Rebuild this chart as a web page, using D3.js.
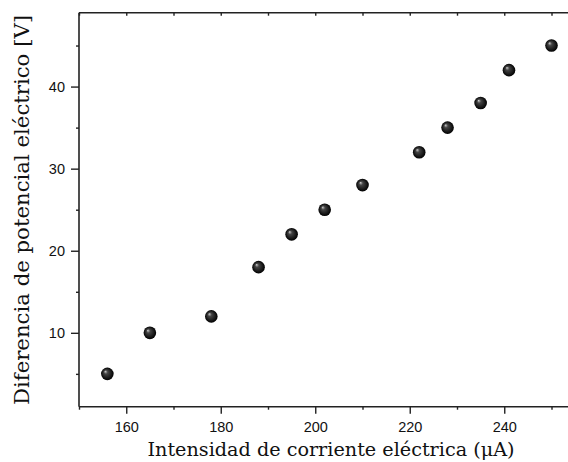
<!DOCTYPE html>
<html><head><meta charset="utf-8">
<script src="https://cdn.jsdelivr.net/npm/d3@7"></script>
<style>body{margin:0;background:#fff}svg{display:block}</style>
</head><body>
<svg id="c" width="568" height="462"></svg>
<script>
const current = [156,165,178,188,195,202,210,222,228,235,241,250];
const voltage = [5,10,12,18,22,25,28,32,35,38,42,45];
const xTicks = [160,180,200,220,240];
const xMinor = [150,170,190,210,230,250];
const yTicks = [10,20,30,40];
const yMinor = [5,15,25,35,45];
const xTitle = "Intensidad de corriente eléctrica (\u03bcA)";
const yTitle = "Diferencia de potencial eléctrico [V]";

const svg = d3.select("#c");
const L = 79, T = 12.7, B = 406.7;
const x = d3.scaleLinear().domain([150,260]).range([L, L + 110*4.725]);
const y = d3.scaleLinear().domain([1,49]).range([B, T]);
const axCol = "#222";

const defs = svg.append("defs");
const g = defs.append("radialGradient").attr("id","ball").attr("cx","50%").attr("cy","50%").attr("r","50%").attr("fx","33%").attr("fy","30%");
g.append("stop").attr("offset","0%").attr("stop-color","#ccc");
g.append("stop").attr("offset","30%").attr("stop-color","#444");
g.append("stop").attr("offset","100%").attr("stop-color","#000");

function style(sel){
  sel.select(".domain").attr("stroke",axCol).attr("stroke-width",1.6);
  sel.selectAll(".tick line").attr("stroke",axCol).attr("stroke-width",1.4);
  sel.selectAll(".tick text").attr("fill","#111").style("font-family","'Liberation Sans', Arial, sans-serif").style("font-size","14.5px");
}

// bottom axis
const bx = svg.append("g").attr("transform",`translate(0,${B})`)
  .call(d3.axisBottom(x).tickValues(xTicks).tickSize(7).tickPadding(8).tickSizeOuter(0));
style(bx);
svg.append("g").attr("transform",`translate(0,${B})`)
  .call(d3.axisBottom(x).tickValues(xMinor).tickSize(3).tickFormat("").tickSizeOuter(0))
  .call(s=>{s.select(".domain").remove();s.selectAll(".tick line").attr("stroke",axCol).attr("stroke-width",1.4);});

// top axis
const tx = svg.append("g").attr("transform",`translate(0,${T})`)
  .call(d3.axisTop(x).tickValues(xTicks.concat(xMinor)).tickSize(-3).tickFormat("").tickSizeOuter(0));
style(tx);

// left axis
const ly = svg.append("g").attr("transform",`translate(${L},0)`)
  .call(d3.axisLeft(y).tickValues(yTicks).tickSize(8).tickPadding(6).tickSizeOuter(0));
style(ly);
ly.select(".domain").attr("d",`M0,${T}V${B}`);
svg.append("g").attr("transform",`translate(${L},0)`)
  .call(d3.axisLeft(y).tickValues(yMinor).tickSize(3).tickFormat("").tickSizeOuter(0))
  .call(s=>{s.select(".domain").remove();s.selectAll(".tick line").attr("stroke",axCol).attr("stroke-width",1.4);});

bx.select(".domain").attr("d",`M${L},0H568`);
tx.select(".domain").attr("d",`M${L},0H568`);

// points
svg.append("g").selectAll("circle").data(current.map((c,i)=>[c,voltage[i]])).join("circle")
  .attr("cx",d=>x(d[0])).attr("cy",d=>y(d[1])).attr("r",6.3)
  .attr("fill","url(#ball)");

// titles
const tf = "'DejaVu Serif', 'Liberation Serif', serif";
const xt = svg.append("text").attr("x",331).attr("y",456).attr("text-anchor","middle")
  .style("font-family",tf).style("font-size","18px").attr("fill","#111").text(xTitle);
let w = xt.node().getComputedTextLength();
xt.style("font-size", (18*367/w).toFixed(2)+"px");
const yt = svg.append("text").attr("transform","translate(29,210) rotate(-90)").attr("text-anchor","middle")
  .style("font-family",tf).style("font-size","18px").attr("fill","#111").text(yTitle);
w = yt.node().getComputedTextLength();
yt.style("font-size", (18*390/w).toFixed(2)+"px");
</script>
</body></html>
